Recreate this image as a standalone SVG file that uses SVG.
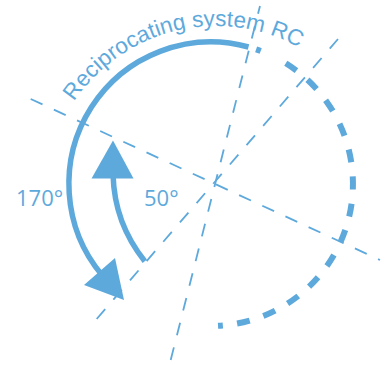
<svg xmlns="http://www.w3.org/2000/svg" width="385" height="365" viewBox="0 0 385 365">
<style>
.axis{fill:none;stroke:#5ea9dc;stroke-width:1.8;stroke-dasharray:13 12.5}
.solid{fill:none;stroke:#5ea9dc;stroke-width:5.5}
.dash{fill:none;stroke:#5ea9dc;stroke-width:6;stroke-dasharray:13 14.3}
.head{fill:#5ea9dc}
.lbl{font-family:"Open Sans","Liberation Sans",sans-serif;font-size:22px;fill:#5ea9dc}
.title{font-family:"Liberation Sans",Arial,sans-serif;font-size:22.5px;fill:#5ea9dc}
</style>
<defs>
<path id="tp" d="M74.1,101.6 A171,171 0 0,1 364.1,111.5"/>
</defs>
<rect width="385" height="365" fill="#ffffff"/>
<g id="connectors">
<line class="axis" x1="170.7" y1="360" x2="260" y2="6"/>
<line class="axis" x1="96.7" y1="319" x2="338" y2="39"/>
<line class="axis" x1="30.7" y1="99" x2="380" y2="260"/>
</g>
<g id="range-170">
<path class="solid" d="M248.5,47 A142,142 0 0,0 102.2,275.3"/>
<polygon class="head" points="124,300 84,285 115,258"/>
</g>
<g id="range-rest">
<path d="M256.1,49.3 A142,142 0 0,1 260.7,51" fill="none" stroke="#5ea9dc" stroke-width="6"/>
<path class="dash" d="M285.8,63.3 A142,142 0 0,1 218,325.8"/>
</g>
<g id="range-50">
<path class="solid" d="M144.8,261.2 A144,144 0 0,1 113.05,174.8"/>
<polygon class="head" points="113,140.5 91.5,178.5 133.5,178.5"/>
</g>
<g id="labels">
<text class="title"><textPath href="#tp">Reciprocating system RC</textPath></text>
<text class="lbl" x="16" y="206">170°</text>
<text class="lbl" x="144" y="206">50°</text>
</g>
</svg>
